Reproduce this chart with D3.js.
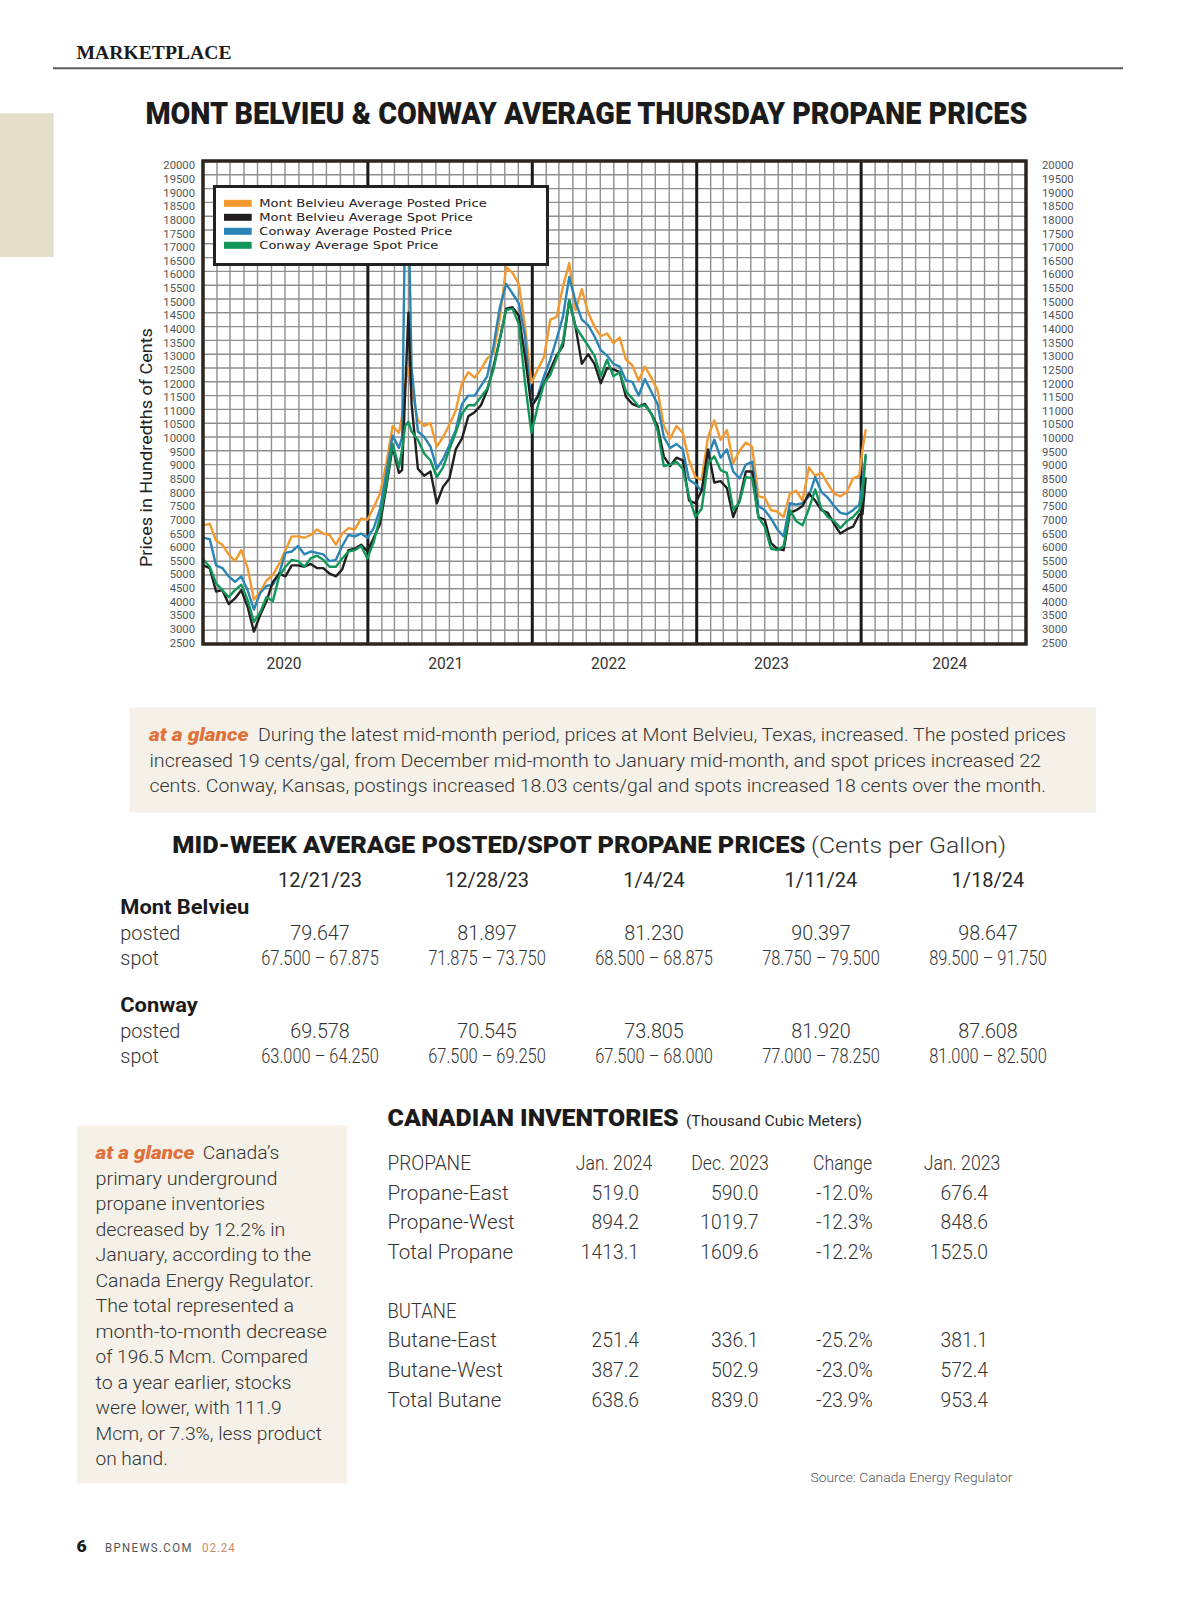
<!DOCTYPE html>
<html><head><meta charset="utf-8">
<script src="https://cdn.jsdelivr.net/npm/d3@7"></script>
<style>
html,body{margin:0;padding:0;background:#fff;}
svg{display:block;}
.t-body{font-family:Roboto,"Liberation Sans",Arial,sans-serif;font-weight:300;fill:#333;}
.t-reg{font-family:Roboto,"Liberation Sans",Arial,sans-serif;font-weight:400;fill:#2a2a2a;}
.t-head{font-family:Roboto,"Liberation Sans",Arial,sans-serif;font-weight:900;fill:#1b1b1b;}
.t-bold{font-family:Roboto,"Liberation Sans",Arial,sans-serif;font-weight:700;fill:#1b1b1b;}
.t-glance{font-family:Roboto,"Liberation Sans",Arial,sans-serif;font-weight:900;font-style:italic;fill:#e0703a;}
.t-serif{font-family:"Liberation Serif","DejaVu Serif",serif;font-weight:700;fill:#1b1b1b;}
.t-legend{font-family:"DejaVu Sans",sans-serif;font-weight:400;fill:#222;}
</style></head><body>
<svg id="page" width="1200" height="1598"></svg>
<script>
// ---------- DATA ----------
// weeks since Thursday 2020-01-02 (sampled)
const weeks = [0,2,4,6,8,10,12,14,16,18,20,22,24,26,28,30,32,34,36,38,40,42,44,46,48,50,52,54,56,58,60,62,63,64,65,66,
68,70,72,74,76,78,80,82,84,86,88,90,92,94,96,98,100,102,104,106,108,110,112,114,116,118,120,122,124,
126,128,130,132,134,136,138,140,142,144,146,148,150,152,154,156,158,160,162,164,166,168,170,172,174,176,178,180,182,184,186,188,190,192,194,196,198,200,202,204,206,208,209,210];

const mbPosted = [6800,6850,6250,6100,5750,5500,5900,5250,4100,4400,4800,5000,5400,5900,6400,6400,6350,6450,6650,6500,6450,6100,6500,6700,6650,7050,7000,7450,7950,9050,10400,10150,10750,11950,12500,11700,
10600,10400,10500,9650,10000,10450,10950,11950,12350,12150,12450,12850,13050,14300,16150,15950,15550,14000,11950,12450,12900,14250,14350,15450,16300,14600,15350,14500,14000,
13650,13750,13400,13600,12800,12600,12050,12550,12150,11700,10400,9950,10400,10150,9150,8550,8450,10000,10600,9900,10250,9050,9500,9800,9650,7850,7800,7350,7300,7100,7950,8050,7700,8900,8600,8700,8300,7950,7850,8000,8500,8600,9550,10250];

const mbSpot = [5350,5250,4400,4450,3950,4150,4450,3850,2950,3550,4050,4750,5050,4950,5350,5350,5300,5400,5250,5250,5050,4950,5200,5900,5950,6100,5850,6350,6850,8200,9650,8700,8800,11700,14500,11200,
8850,8600,8750,7600,8200,8500,9550,9950,10750,10900,11150,11700,12550,13550,14650,14700,14400,12900,11100,11450,11950,12450,12950,13300,14950,14000,12650,13000,12650,
11950,12500,12450,12350,11450,11200,11100,11200,10850,10400,9300,8950,9250,9150,7700,7600,8050,9550,8350,8400,8150,7100,7700,8750,8750,7100,7000,6150,5950,5900,7250,7350,7500,7950,7700,7350,7250,6850,6500,6650,6750,7200,7200,8500];

const cwPosted = [6350,6300,5350,5250,4950,4750,4950,4450,3750,4350,4600,4650,5050,5800,5850,6050,5750,5850,5800,5750,5500,5550,6050,6450,6400,6500,6350,6700,7400,8700,10050,9600,10000,18500,18500,12500,
10200,10000,9650,8850,9200,9700,10250,11200,11500,11500,11850,12200,13300,14700,15550,15200,14850,13650,11150,11500,12200,12800,13550,14350,15800,14900,14250,14050,13650,
13150,12950,12650,12550,12050,12000,11500,12100,11650,11200,10000,9600,9750,9550,8450,8300,8050,9300,9900,9250,9550,8750,8500,9000,9100,7500,7350,7050,6650,6400,7600,7550,7600,7850,8550,8000,7800,7500,7250,7200,7350,7550,8300,9300];

const cwSpot = [5550,5300,4700,4450,4200,4450,4650,4100,3300,3650,4200,4050,4950,5300,5550,5500,5300,5600,5700,5550,5300,5300,5600,5850,5900,6050,5600,6200,7100,8300,9750,8900,9550,10400,10550,10200,
9900,9400,9150,8550,8900,9550,10150,10850,11150,11150,11450,11750,12450,13550,14600,14650,14100,11950,10150,11100,11950,12250,12850,13450,14950,14000,13650,13300,12950,
12200,12800,12200,12350,11650,11400,11100,11150,10850,10250,8950,9000,9100,8850,7850,7100,7400,9050,9300,8800,8700,7350,7650,8550,8500,7100,6750,5950,5900,6050,7350,6950,6800,7400,8100,7400,7100,6950,6700,6950,7100,7350,7850,9350];

const seriesNames = ["Mont Belvieu Average Posted Price","Mont Belvieu Average Spot Price","Conway Average Posted Price","Conway Average Spot Price"];
const yTicks = d3.range(2500, 20001, 500);
const yearLabels = ["2020","2021","2022","2023","2024"];
const yearLabelDates = ["2020-06-29","2021-06-23","2022-06-19","2023-06-16","2024-07-16"];

const tblDates = ["12/21/23","12/28/23","1/4/24","1/11/24","1/18/24"];
const mbPostedTbl = ["79.647","81.897","81.230","90.397","98.647"];
const mbSpotTbl = ["67.500 – 67.875","71.875 – 73.750","68.500 – 68.875","78.750 – 79.500","89.500 – 91.750"];
const cwPostedTbl = ["69.578","70.545","73.805","81.920","87.608"];
const cwSpotTbl = ["63.000 – 64.250","67.500 – 69.250","67.500 – 68.000","77.000 – 78.250","81.000 – 82.500"];

const invCols = ["Jan. 2024","Dec. 2023","Change","Jan. 2023"];
const propaneRows = ["Propane-East","Propane-West","Total Propane"];
const propaneVals = [["519.0","590.0","-12.0%","676.4"],["894.2","1019.7","-12.3%","848.6"],["1413.1","1609.6","-12.2%","1525.0"]];
const butaneRows = ["Butane-East","Butane-West","Total Butane"];
const butaneVals = [["251.4","336.1","-25.2%","381.1"],["387.2","502.9","-23.0%","572.4"],["638.6","839.0","-23.9%","953.4"]];

const glance1 = [
 "During the latest mid-month period, prices at Mont Belvieu, Texas, increased. The posted prices",
 "increased 19 cents/gal, from December mid-month to January mid-month, and spot prices increased 22",
 "cents. Conway, Kansas, postings increased 18.03 cents/gal and spots increased 18 cents over the month."
];
const glance2 = ["Canada’s","primary underground","propane inventories","decreased by 12.2% in","January, according to the",
 "Canada Energy Regulator.","The total represented a","month-to-month decrease","of 196.5 Mcm. Compared",
 "to a year earlier, stocks","were lower, with 111.9","Mcm, or 7.3%, less product","on hand."];

// ---------- STYLE ----------
const colors = ["#f2992f","#231f20","#2b84b6","#12975a"];
const svg = d3.select("#page");
function fitW(sel, w){ return sel.attr("textLength", w).attr("lengthAdjust","spacingAndGlyphs"); }
function fitRef(sel, refNode, target){
  const k = target / refNode.getComputedTextLength();
  sel.each(function(){ const L=this.getComputedTextLength(); this.setAttribute("textLength", L*k); this.setAttribute("lengthAdjust","spacingAndGlyphs"); });
}
function fitNodes(nodes, k){
  nodes.forEach(n=>{ n.setAttribute("textLength", n.getComputedTextLength()*k); n.setAttribute("lengthAdjust","spacingAndGlyphs"); });
}

// ---------- HEADER ----------
fitW(svg.append("text").attr("class","t-serif").attr("x",76.5).attr("y",59.3).attr("font-size",19).text("MARKETPLACE"),155);
svg.append("line").attr("x1",53).attr("x2",1123).attr("y1",68.3).attr("y2",68.3).attr("stroke","#5a5a5a").attr("stroke-width",2);
svg.append("rect").attr("x",0).attr("y",113.3).attr("width",53.5).attr("height",143.7).attr("fill","#e4ddca");
fitW(svg.append("text").attr("class","t-head").attr("x",145.4).attr("y",124).attr("font-size",31).text("MONT BELVIEU & CONWAY AVERAGE THURSDAY PROPANE PRICES"),882);

// ---------- CHART ----------
const X0=203, X1=1026, Y0=161, Y1=644;
const x = d3.scaleTime().domain([new Date(2020,0,1), new Date(2025,0,1)]).range([X0,X1]);
const y = d3.scaleLinear().domain([2500,20000]).range([Y1,Y0]);
const yLab = d3.scaleLinear().domain([2500,20000]).range([643,165.7]);
const start = new Date(2020,0,2);
const dates = weeks.map(w => d3.timeDay.offset(start, w*7));

const g = svg.append("g");
g.append("rect").attr("x",X0).attr("y",Y0).attr("width",X1-X0).attr("height",Y1-Y0).attr("fill","#fff");
const months = d3.timeMonth.range(new Date(2020,1,1), new Date(2025,0,1)).filter(d=>d.getMonth()!==0);
g.selectAll("line.vg").data(months).join("line").attr("class","vg")
  .attr("x1",d=>x(d)).attr("x2",d=>x(d)).attr("y1",Y0).attr("y2",Y1).attr("stroke","#8f8f8f").attr("stroke-width",1.4);
g.selectAll("line.hg").data(yTicks.slice(1,-1)).join("line").attr("class","hg")
  .attr("x1",X0).attr("x2",X1).attr("y1",d=>y(d)).attr("y2",d=>y(d)).attr("stroke","#8f8f8f").attr("stroke-width",1.4);
const yearStarts = d3.timeYear.range(new Date(2021,0,1), new Date(2025,0,1));
g.selectAll("line.yl").data(yearStarts).join("line").attr("class","yl")
  .attr("x1",d=>x(d)).attr("x2",d=>x(d)).attr("y1",Y0).attr("y2",Y1).attr("stroke","#1a1a1a").attr("stroke-width",3);

svg.append("clipPath").attr("id","plotclip").append("rect").attr("x",X0).attr("y",Y0).attr("width",X1-X0).attr("height",Y1-Y0);
const line = d3.line().x((d,i)=>x(dates[i])).y(d=>y(d)).curve(d3.curveLinear);
const series = [mbPosted, mbSpot, cwPosted, cwSpot];
const lg = g.append("g").attr("clip-path","url(#plotclip)");
[0,2,1,3].forEach(i=>{
  lg.append("path").attr("d",line(series[i])).attr("fill","none").attr("stroke",colors[i])
    .attr("stroke-width",2.4).attr("stroke-linejoin","round").attr("stroke-linecap","round");
});
g.append("rect").attr("x",X0).attr("y",Y0).attr("width",X1-X0).attr("height",Y1-Y0)
  .attr("fill","none").attr("stroke","#2a2520").attr("stroke-width",3.5);

// legend
const leg = g.append("g");
leg.append("rect").attr("x",214.5).attr("y",186.5).attr("width",333).attr("height",78).attr("fill","#fff").attr("stroke","#222").attr("stroke-width",3);
const legY = d3.scalePoint().domain(seriesNames).range([203.3,245.3]);
const legW = [227.4,213.4,193,179];
seriesNames.forEach((n,i)=>{
  leg.append("rect").attr("x",224).attr("y",legY(n)-3.5).attr("width",27.7).attr("height",7).attr("fill",colors[i]);
  fitW(leg.append("text").attr("class","t-legend").attr("x",259.3).attr("y",legY(n)+3.8).attr("font-size",11).text(n), legW[i]);
});

// y tick labels (left & right)
const lt = svg.selectAll("text.ytl").data(yTicks).join("text").attr("class","t-reg ytl")
  .attr("x",195).attr("y",d=>yLab(d)).attr("dy","0.35em").attr("text-anchor","end").attr("font-size",10.5).style("fill","#555").text(d=>d);
const rt = svg.selectAll("text.ytr").data(yTicks).join("text").attr("class","t-reg ytr")
  .attr("x",1042).attr("y",d=>yLab(d)).attr("dy","0.35em").attr("text-anchor","start").attr("font-size",10.5).style("fill","#555").text(d=>d);
fitRef(lt, lt.filter(d=>d===20000).node(), 31.7);
fitRef(rt, rt.filter(d=>d===20000).node(), 31.7);

// year labels
const yl = svg.selectAll("text.yrl").data(yearLabels).join("text").attr("class","t-reg yrl")
  .attr("x",(d,i)=>x(new Date(yearLabelDates[i]+"T00:00:00"))).attr("y",669.3).attr("text-anchor","middle").attr("font-size",17).style("fill","#333").text(d=>d);
fitRef(yl, yl.node(), 35);

// y axis title
fitW(svg.append("text").attr("class","t-reg").attr("transform","translate(152,447.6) rotate(-90)")
  .attr("text-anchor","middle").attr("font-size",16).style("fill","#222").text("Prices in Hundredths of Cents"),239);

// ---------- AT A GLANCE 1 ----------
svg.append("rect").attr("x",129.5).attr("y",707.5).attr("width",966.5).attr("height",105).attr("fill","#f5f1e8");
fitW(svg.append("text").attr("class","t-glance").attr("x",149).attr("y",741).attr("font-size",17.5).text("at a glance"),99.5);
const g1x=[258,149.4,149.4], g1w=[808,891.6,896.6], g1y=[741,766.5,792];
glance1.forEach((s,i)=>fitW(svg.append("text").attr("class","t-body").attr("x",g1x[i]).attr("y",g1y[i]).attr("font-size",17.5).text(s),g1w[i]));

// ---------- MID-WEEK TABLE ----------
fitW(svg.append("text").attr("class","t-head").attr("x",172.3).attr("y",852.5).attr("font-size",24.5).text("MID-WEEK AVERAGE POSTED/SPOT PROPANE PRICES"),633);
fitW(svg.append("text").attr("class","t-body").attr("x",811).attr("y",852.5).attr("font-size",22).text("(Cents per Gallon)"),195);
const colX = d3.scalePoint().domain(tblDates).range([320,988]);
const dh = svg.selectAll("text.dh").data(tblDates).join("text").attr("class","t-reg dh")
  .attr("x",d=>colX(d)).attr("y",886.5).attr("text-anchor","middle").attr("font-size",19.5).text(d=>d);
fitRef(dh, dh.node(), 84);
const loc1 = svg.append("text").attr("class","t-bold").attr("x",120.3).attr("y",913.5).attr("font-size",21).text("Mont Belvieu");
const loc2 = svg.append("text").attr("class","t-bold").attr("x",120.3).attr("y",1011.5).attr("font-size",21).text("Conway");
const locK = 129 / loc1.node().getComputedTextLength();
fitNodes([loc2.node()], locK);
fitW(loc1,129);
const rowLbl = [["posted",940],["spot",965],["posted",1037.5],["spot",1063]];
const rl = svg.selectAll("text.rl").data(rowLbl).join("text").attr("class","t-body rl")
  .attr("x",120.3).attr("y",d=>d[1]).attr("font-size",19.5).text(d=>d[0]);
fitRef(rl, rl.node(), 60);
function rowVals(arr, yy, cls){
  return svg.selectAll(null).data(arr).join("text").attr("class","t-body "+cls)
    .attr("x",(d,i)=>colX(tblDates[i])).attr("y",yy).attr("text-anchor","middle").attr("font-size",19.5).text(d=>d);
}
const pv1 = rowVals(mbPostedTbl,940,"pv"), sv1 = rowVals(mbSpotTbl,965,"sv");
const pv2 = rowVals(cwPostedTbl,1037.5,"pv"), sv2 = rowVals(cwSpotTbl,1063,"sv");
const kP = 59.5 / pv1.node().getComputedTextLength();
const kS = 117.6 / sv1.node().getComputedTextLength();
fitNodes([...pv1.nodes(), ...pv2.nodes()], kP);
fitNodes([...sv1.nodes(), ...sv2.nodes()], kS);

// ---------- AT A GLANCE 2 ----------
svg.append("rect").attr("x",76.5).attr("y",1125.5).attr("width",271).attr("height",358).attr("fill","#f5f1e8");
fitW(svg.append("text").attr("class","t-glance").attr("x",95.5).attr("y",1159.4).attr("font-size",18).text("at a glance"),99);
const g2end = [279.2,277.4,265,285.3,311,314,294,327,308,291.5,281.7,322,167.8];
glance2.forEach((s,i)=>{
  const xs = i===0 ? 202.7 : 95.5;
  fitW(svg.append("text").attr("class","t-body").attr("x",xs).attr("y",1159.4+25.5*i).attr("font-size",18).text(s), g2end[i]-xs);
});

// ---------- CANADIAN INVENTORIES ----------
fitW(svg.append("text").attr("class","t-head").attr("x",387.6).attr("y",1125.5).attr("font-size",24.5).text("CANADIAN INVENTORIES"),291);
fitW(svg.append("text").attr("class","t-reg").attr("x",686).attr("y",1126).attr("font-size",14.5).text("(Thousand Cubic Meters)"),176);
const invHeadX = [614,730,842.6,962];
const invValX = [639,758.5,872.7,988];
const lblNodes = [], numNodes = [], headNodes = [];
function invText(txt, xx, yy, anchor, bucket){
  const t = svg.append("text").attr("class","t-body").attr("x",xx).attr("y",yy).attr("text-anchor",anchor).attr("font-size",19.5).text(txt);
  bucket.push(t.node()); return t;
}
const propHead = invText("PROPANE",387.4,1170,"start",[]);
fitW(propHead, 83.6);
invCols.forEach((c,i)=>invText(c,invHeadX[i],1170,"middle",headNodes));
propaneRows.forEach((r,ri)=>{ invText(r,387.4,1199.6+29.6*ri,"start",lblNodes);
  propaneVals[ri].forEach((v,ci)=>invText(v,invValX[ci],1199.6+29.6*ri,"end",numNodes)); });
const butHead = invText("BUTANE",387.4,1317.8,"start",[]);
fitW(butHead, 69);
butaneRows.forEach((r,ri)=>{ invText(r,387.4,1347.4+29.6*ri,"start",lblNodes);
  butaneVals[ri].forEach((v,ci)=>invText(v,invValX[ci],1347.4+29.6*ri,"end",numNodes)); });
fitNodes(lblNodes, 121.3 / lblNodes[0].getComputedTextLength());
fitNodes(numNodes, 58.2 / numNodes[8].getComputedTextLength());   // "1413.1"
fitNodes(headNodes, 76.5 / headNodes[0].getComputedTextLength()); // "Jan. 2024"

fitW(svg.append("text").attr("class","t-body").attr("x",810.5).attr("y",1482).attr("font-size",13.5).style("fill","#555").text("Source: Canada Energy Regulator"),202);

// ---------- FOOTER ----------
fitW(svg.append("text").attr("class","t-head").attr("x",76.5).attr("y",1551.5).attr("font-size",16).text("6"),10.2);
fitW(svg.append("text").attr("class","t-reg").attr("x",105).attr("y",1551.5).attr("font-size",12.5).style("fill","#555").style("letter-spacing","1.5px").text("BPNEWS.COM"),87.7);
fitW(svg.append("text").attr("class","t-reg").attr("x",202).attr("y",1551.5).attr("font-size",12.5).style("fill","#c98e6c").style("letter-spacing","1px").text("02.24"),33.6);

// sanity check
[mbPosted,mbSpot,cwPosted,cwSpot].forEach((s,i)=>{ if(s.length!==weeks.length) svg.append("text").attr("x",10).attr("y",20+15*i).attr("fill","red").text("len mismatch "+i+": "+s.length+" vs "+weeks.length); });
</script>
</body></html>
